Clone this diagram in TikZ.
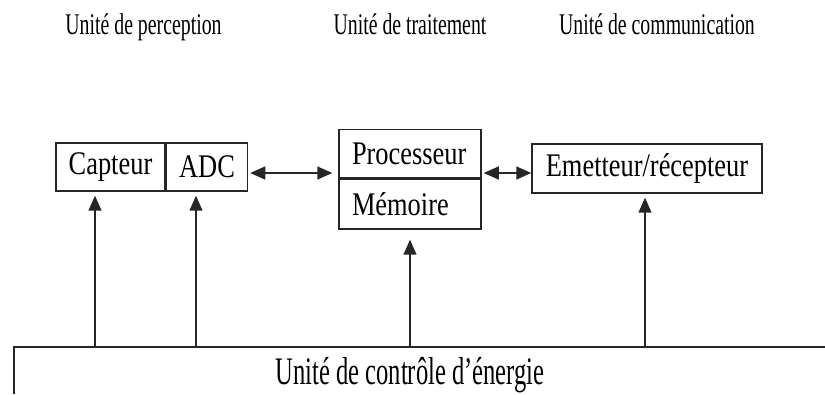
\documentclass[tikz,border=0pt]{standalone}
\usepackage{fontspec}
\setmainfont{Liberation Serif}
\newfontfamily\headfont[FakeStretch=0.66]{Liberation Serif}
\newfontfamily\boxfont[FakeStretch=0.8]{Liberation Serif}
\newfontfamily\basefont[FakeStretch=0.63]{Liberation Serif}
\usetikzlibrary{positioning,arrows.meta}

\begin{document}
\begin{tikzpicture}[
  x=1pt, y=1pt,
  unit/.style={draw=black!85, line width=1.5pt, minimum height=48pt, inner sep=0pt,
    font=\boxfont\fontsize{33}{36}\selectfont},
  heading/.style={font=\headfont\fontsize{30}{34}\selectfont, anchor=base},
  link/.style={{Triangle[length=15pt,width=13pt]}-{Triangle[length=15pt,width=13pt]},
    line width=1.5pt, black!85},
  feed/.style={-{Triangle[length=15pt,width=13pt]}, line width=1.5pt, black!85},
]
\useasboundingbox (0,0) rectangle (825,394);

% Column headings
\node[heading] (hperc) at (143.5,359) {Unité de perception};
\node[heading] (htrait) at (410,359) {Unité de traitement};
\node[heading] (hcomm) at (657,359) {Unité de communication};

% Perception unit
\node[unit, minimum width=109pt] (capteur) at (110.5,227) {Capteur};
\node[unit, minimum width=81pt, right=0pt of capteur] (adc) {ADC};

% Processing unit
\node[unit, text width=116pt, inner xsep=13pt, align=left] (proc) at (410,240.5) {Processeur};
\node[unit, text width=116pt, inner xsep=13pt, align=left, minimum height=50pt,
  below=0pt of proc] (mem) {Mémoire};

% Communication unit
\node[unit, minimum width=230pt, minimum height=49pt] (emet) at (647,225.5) {Emetteur/récepteur};

% Energy unit
\coordinate (etop) at (14,47);
\draw[draw=black!85, line width=1.5pt] (14,0) -- (etop) -- (825,47);
\node[font=\basefont\fontsize{39}{44}\selectfont, anchor=base] (energie) at (410,10)
  {Unité de contrôle d’énergie};

% Data links
\coordinate (lnk) at ([yshift=-6pt]adc.east);
\draw[link, shorten <=2pt, shorten >=6pt] (lnk) -- (lnk -| proc.west);
\draw[link, shorten <=2pt] (lnk -| proc.east) -- (lnk -| emet.west);

% Power feeds
\draw[feed, shorten >=4pt] ([xshift=-15.5pt]capteur.south |- etop) -- ([xshift=-15.5pt]capteur.south);
\draw[feed, shorten >=4pt] ([xshift=-11pt]adc.south |- etop) -- ([xshift=-11pt]adc.south);
\draw[feed, shorten >=10pt] (mem.south |- etop) -- (mem.south);
\draw[feed, shorten >=4pt] ([xshift=-2pt]emet.south |- etop) -- ([xshift=-2pt]emet.south);

\end{tikzpicture}
\end{document}
